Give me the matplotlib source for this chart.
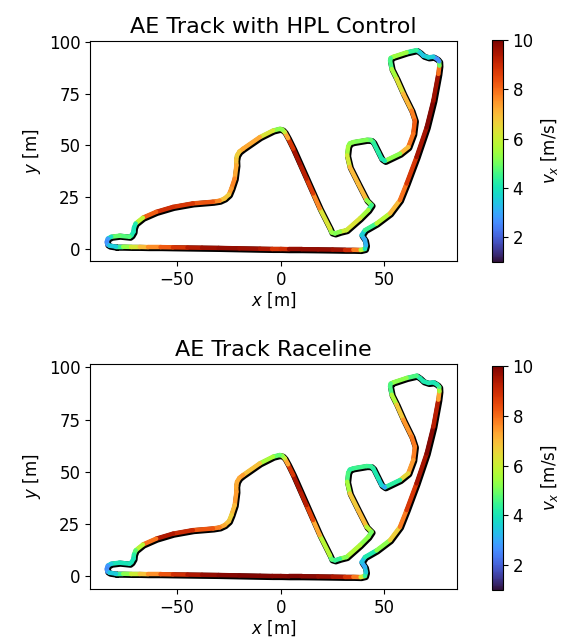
import numpy as np
import matplotlib
matplotlib.use("Agg")
import matplotlib.pyplot as plt
import matplotlib.transforms as mtransforms
from matplotlib.collections import LineCollection
from matplotlib.colors import Normalize
from matplotlib.cm import ScalarMappable

# track waypoints [m], counter-clockwise from the left hairpin
track_x = [-79.4, -76.0, -72.0, -68.0, -64.0, -58.0, -52.0, -45.0, -38.0, -30.0,
           -20.0, -10.0, -4.0, 0.0, 4.0, 10.0, 18.0, 25.0, 31.0, 35.0,
           38.5, 40.6, 41.1, 40.6, 39.0, 40.6, 46.2, 52.7, 57.5, 60.7,
           65.5, 70.4, 73.6, 76.0, 76.5, 76.4, 75.5, 73.6, 71.2, 68.8,
           67.1, 65.5, 60.7, 54.3, 53.0, 52.7, 53.5, 55.9, 59.1, 63.1,
           64.7, 63.9, 61.5, 57.5, 50.2, 48.6, 47.0, 44.6, 43.5, 41.4,
           34.9, 33.3, 32.5, 32.0, 33.3, 37.3, 41.4, 43.8, 42.2, 38.2,
           31.7, 28.5, 26.1, 24.5, 23.7, 18.8, 15.6, 12.4, 9.2, 6.0,
           3.5, 1.9, 0.8, -0.5, -3.7, -10.1, -18.2, -20.0, -21.1, -21.5,
           -21.4, -22.2, -23.8, -25.0, -27.1, -29.5, -32.7, -42.4, -52.0, -60.1,
           -66.5, -70.0, -70.8, -71.0, -72.0, -72.9, -77.8, -81.8, -83.4, -83.9,
           -83.6, -82.6]
track_y = [1.1, 1.1, 1.0, 1.0, 0.9, 0.9, 0.8, 0.7, 0.6, 0.5,
           0.3, 0.1, 0.0, 0.0, -0.1, -0.1, -0.2, -0.3, -0.4, -0.4,
           -0.5, 0.0, 1.8, 4.3, 6.7, 9.1, 12.3, 17.2, 23.6, 31.6,
           44.4, 58.8, 71.6, 84.5, 88.5, 90.6, 91.7, 92.8, 92.5, 93.3,
           94.9, 96.0, 94.9, 92.8, 92.2, 90.9, 86.9, 82.1, 74.9, 66.8,
           62.0, 55.6, 49.2, 46.0, 42.5, 43.6, 46.8, 51.6, 52.6, 52.7,
           51.6, 51.0, 49.5, 45.2, 39.6, 31.6, 23.6, 21.2, 18.8, 14.8,
           9.1, 8.3, 7.5, 8.0, 9.9, 19.6, 26.8, 34.0, 41.2, 48.4,
           53.5, 56.4, 57.6, 58.0, 57.2, 54.0, 48.4, 47.0, 45.2, 43.0,
           40.4, 34.0, 29.2, 26.3, 24.4, 23.3, 22.8, 22.0, 20.3, 17.9,
           15.1, 12.3, 10.3, 8.3, 6.6, 5.9, 6.4, 5.9, 5.0, 3.5,
           2.2, 1.6]

# longitudinal speed [m/s] at each waypoint
v_hpl = [4.0, 4.8, 5.8, 6.6, 7.3, 7.9, 8.5, 9.1, 9.5, 9.7,
         9.7, 9.5, 9.3, 8.3, 9.5, 9.8, 9.6, 9.8, 9.3, 8.6,
         7.0, 4.5, 3.3, 3.0, 3.2, 4.0, 5.0, 6.5, 7.5, 8.3,
         9.2, 9.8, 9.9, 9.3, 6.5, 3.5, 2.0, 3.3, 3.8, 3.5,
         3.3, 3.8, 5.0, 5.8, 5.0, 4.2, 5.0, 6.0, 6.6, 7.5,
         8.0, 8.3, 7.5, 6.5, 4.0, 4.0, 4.3, 4.2, 4.6, 5.0,
         5.2, 5.2, 5.2, 5.8, 6.5, 7.5, 6.5, 4.0, 5.0, 6.0,
         6.5, 5.5, 5.0, 5.2, 5.5, 7.0, 8.3, 9.0, 9.5, 9.5,
         8.0, 6.5, 5.5, 5.0, 5.5, 7.0, 7.5, 7.0, 6.5, 6.8,
         7.0, 7.5, 7.8, 7.0, 6.5, 7.3, 8.0, 8.5, 9.0, 8.8,
         7.5, 4.2, 4.0, 4.0, 4.1, 4.2, 5.2, 4.5, 3.2, 2.5,
         2.7, 3.0]
v_race = [4.0, 4.8, 5.6, 6.5, 7.2, 7.9, 8.6, 9.2, 9.6, 9.8,
          9.9, 9.9, 9.9, 9.8, 9.9, 9.9, 9.7, 9.6, 9.2, 8.4,
          7.3, 5.0, 3.8, 3.2, 3.0, 3.8, 4.5, 6.0, 7.3, 8.3,
          9.2, 9.8, 9.9, 8.6, 6.0, 5.0, 4.2, 4.0, 4.0, 4.2,
          4.0, 4.3, 5.0, 5.5, 5.0, 4.3, 5.0, 6.3, 7.2, 7.8,
          7.9, 7.6, 7.2, 5.8, 2.8, 3.3, 4.0, 4.2, 4.3, 4.5,
          4.5, 4.4, 4.3, 5.0, 6.0, 7.5, 6.5, 5.0, 5.0, 5.5,
          5.8, 4.5, 4.3, 4.6, 5.0, 6.5, 8.0, 9.0, 9.5, 9.5,
          8.0, 6.5, 5.5, 5.0, 4.8, 6.3, 7.5, 7.3, 7.2, 7.2,
          7.3, 7.5, 6.5, 6.8, 7.0, 7.5, 8.0, 8.5, 9.5, 9.3,
          6.5, 5.0, 4.5, 4.0, 4.0, 4.0, 4.0, 4.0, 3.0, 2.5,
          2.7, 3.0]

titles = ["AE Track with HPL Control", "AE Track Raceline"]

plt.rcParams["font.size"] = 12

fig = plt.figure(figsize=(5.64, 6.43), dpi=100)
ax_pos = [[0.1596, 0.5941, 0.6507, 0.3421], [0.1596, 0.0840, 0.6507, 0.3499]]
cax_pos = [[0.8718, 0.5930, 0.0195, 0.3448], [0.8718, 0.0825, 0.0195, 0.3483]]
ylims = [(-5.8, 100.4), (-6.2, 101.6)]

norm = Normalize(vmin=1, vmax=10)
cmap = plt.get_cmap("turbo")

xs = np.array(track_x + track_x[:1])
ys = np.array(track_y + track_y[:1])
pts = np.array([xs, ys]).T.reshape(-1, 1, 2)
segs = np.concatenate([pts[:-1], pts[1:]], axis=1)

for i, v in enumerate([v_hpl, v_race]):
    ax = fig.add_axes(ax_pos[i])
    vv = np.array(v + v[:1])
    # black reference line, nudged slightly down-right like a shadow
    shift = mtransforms.ScaledTranslation(1.0 / 100, -1.0 / 100, fig.dpi_scale_trans)
    ax.plot(xs, ys, color="k", lw=4.4, solid_capstyle="round",
            solid_joinstyle="round", transform=ax.transData + shift)
    lc = LineCollection(segs, cmap=cmap, norm=norm, linewidths=3.2,
                        capstyle="round", joinstyle="round")
    lc.set_array(0.5 * (vv[:-1] + vv[1:]))
    ax.add_collection(lc)
    ax.set_xlim(-92, 85)
    ax.set_ylim(*ylims[i])
    ax.set_xticks([-50, 0, 50])
    ax.set_yticks([0, 25, 50, 75, 100])
    ax.set_xlabel("$x$ [m]", labelpad=1)
    ax.set_ylabel("$y$ [m]")
    ax.set_title(titles[i], fontsize=16)

    cax = fig.add_axes(cax_pos[i])
    cb = fig.colorbar(ScalarMappable(norm=norm, cmap=cmap), cax=cax)
    cb.set_ticks([2, 4, 6, 8, 10])
    cb.set_label("$v_x$ [m/s]", labelpad=4)

fig.savefig("out.png", dpi=100)
